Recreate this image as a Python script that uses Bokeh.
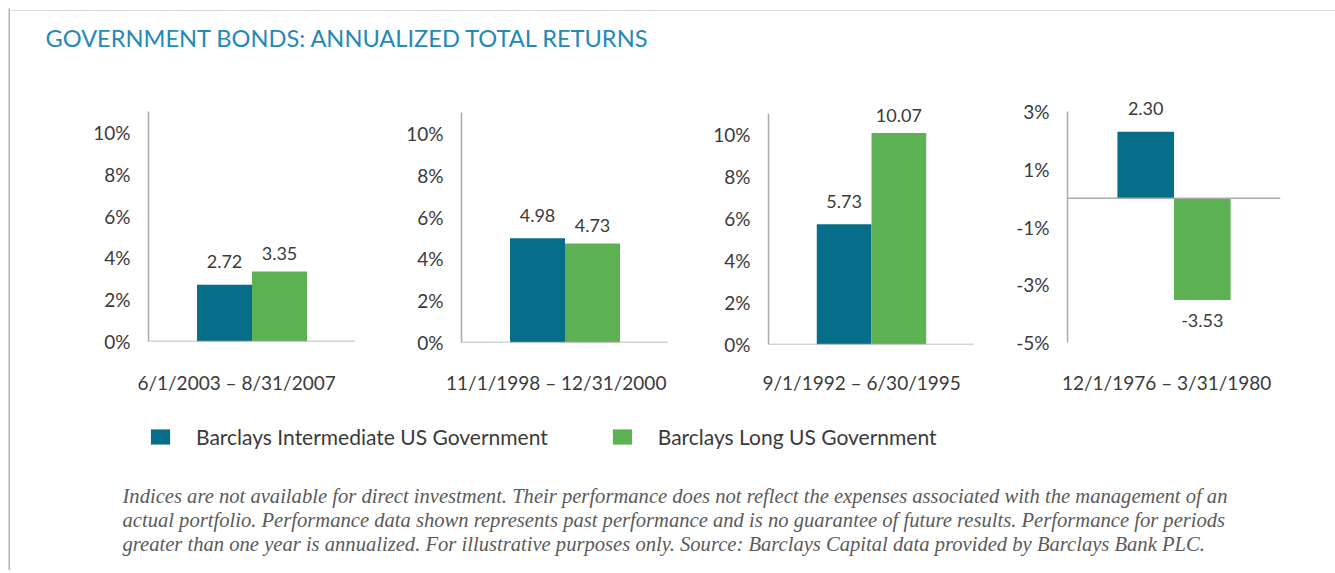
from bokeh.plotting import figure
from bokeh.models import (Range1d, FixedTicker, PrintfTickFormatter, Span, Label, LabelSet,
                          ColumnDataSource, Legend, LegendItem, BoxAnnotation)
from bokeh.layouts import column, row
from bokeh.embed import file_html
from bokeh.resources import INLINE
from bokeh.core.properties import value

# ---------------- data ----------------
title_text = "GOVERNMENT BONDS: ANNUALIZED TOTAL RETURNS"
periods = ["6/1/2003 – 8/31/2007", "11/1/1998 – 12/31/2000",
           "9/1/1992 – 6/30/1995", "12/1/1976 – 3/31/1980"]
series_names = ["Barclays Intermediate US Government", "Barclays Long US Government"]
intermediate = [2.72, 4.98, 5.73, 2.30]
long_gov = [3.35, 4.73, 10.07, -3.53]
ticks_positive = [0, 2, 4, 6, 8, 10]
ticks_mixed = [3, 1, -1, -3, -5]
footnote_lines = [
    "Indices are not available for direct investment. Their performance does not reflect the expenses associated with the management of an",
    "actual portfolio. Performance data shown represents past performance and is no guarantee of future results. Performance for periods",
    "greater than one year is annualized. For illustrative purposes only. Source: Barclays Capital data provided by Barclays Bank PLC.",
]

# ---------------- styles / geometry ----------------
BLUE = "#076e8a"
GREEN = "#5cb153"
TITLE_BLUE = "#2389b7"
AXIS_GRAY = "#ababab"
BORDER_GRAY = "#b3b3b3"
TEXT = "#3a3a3a"
FONT = "Lato"
LEFT_PAD = 10
TOP_PAD = 11
TOTAL_W = 1325
HEADER_H = 60
FOOTER_H = 170
PANEL_TOP = 71          # page y of the panel row
FRAME_TOP = 90          # page y of frame top
PANEL_BOTTOM = 400      # page y of panel bottom
DATE_Y = 382            # page y of period labels

# per panel: axis bounds, page-pixel of lower & upper bound, widths, label x
panel_cfg = [
    dict(left=138, fw=207, right=0, bounds=(0, 11), px=(341, 111), ticks=ticks_positive, lx=0.22),
    dict(left=106, fw=207, right=0, bounds=(0, 11), px=(342, 112), ticks=ticks_positive, lx=0.34),
    dict(left=100, fw=206, right=0, bounds=(0, 11), px=(344, 113), ticks=ticks_positive, lx=0.32),
    dict(left=93, fw=213, right=55, bounds=(-5, 3), px=(342, 111), ticks=ticks_mixed, lx=0.37),
]


def strip(p):
    p.outline_line_color = None
    p.grid.visible = False
    p.background_fill_color = None
    p.border_fill_color = "white"


def blank(w, h):
    b = figure(width=w, height=h, x_range=Range1d(0, w), y_range=Range1d(0, h),
               x_axis_location=None, y_axis_location=None, min_border=0,
               output_backend="svg", toolbar_location=None)
    strip(b)
    return b


# ---------------- page frame (top & left rules) ----------------
full_h = TOP_PAD + HEADER_H + (PANEL_BOTTOM - PANEL_TOP) + FOOTER_H
left_rule = blank(LEFT_PAD, full_h)
left_rule.add_layout(BoxAnnotation(left=LEFT_PAD - 2, right=LEFT_PAD, bottom=0, top=full_h - 8,
                                   fill_color=BORDER_GRAY, fill_alpha=1, line_color=None))
top_rule = blank(TOTAL_W, TOP_PAD)
top_rule.add_layout(BoxAnnotation(left=0, right=TOTAL_W, bottom=0, top=2,
                                  fill_color=BORDER_GRAY, fill_alpha=1, line_color=None))

# ---------------- header ----------------
header = blank(TOTAL_W, HEADER_H)
header.add_layout(Label(x=35, y=HEADER_H - 26, x_units="screen", y_units="screen", text=title_text,
                        text_font=FONT, text_font_size="23.6px", text_color=TITLE_BLUE,
                        text_baseline="middle"))

# ---------------- panels ----------------
panels = []
xs = list(range(len(series_names)))
for i, cfg in enumerate(panel_cfg):
    lo, hi = cfg["bounds"]
    p_lo, p_hi = cfg["px"]
    k = (p_lo - p_hi) / (hi - lo)               # pixels per percent
    y_top = hi + (p_hi - FRAME_TOP) / k
    p = figure(frame_width=cfg["fw"], frame_height=p_lo - FRAME_TOP,
               x_range=Range1d(-1.382, 2.382), y_range=Range1d(lo, y_top),
               min_border_left=cfg["left"], min_border_right=cfg["right"],
               min_border_top=FRAME_TOP - PANEL_TOP, min_border_bottom=PANEL_BOTTOM - p_lo,
               output_backend="svg", toolbar_location=None)
    strip(p)
    vals = [intermediate[i], long_gov[i]]
    offs = []
    for j, v in enumerate(vals):
        if v < 0:
            offs.append(-20)
        else:
            offs.append(23 if j == 0 else 18)
    src = ColumnDataSource(dict(x=xs, top=vals, color=[BLUE, GREEN],
                                label=[f"{v:.2f}" for v in vals], off=offs))
    p.vbar(x="x", top="top", width=1.0, fill_color="color", line_color=None, source=src)
    p.add_layout(LabelSet(x="x", y="top", text="label", y_offset="off", source=src,
                          text_align="center", text_baseline="middle",
                          text_font=value(FONT), text_font_size="18px", text_color=TEXT))
    p.add_layout(Span(location=0, dimension="width", line_color=AXIS_GRAY, line_width=1.5))
    ax = p.yaxis[0]
    ax.bounds = (lo, hi)
    ax.ticker = FixedTicker(ticks=cfg["ticks"])
    ax.formatter = PrintfTickFormatter(format="%d%%")
    ax.major_tick_out = 0
    ax.major_tick_in = 0
    ax.minor_tick_out = 0
    ax.minor_tick_in = 0
    ax.axis_line_color = AXIS_GRAY
    ax.axis_line_width = 1.5
    ax.major_label_standoff = 18
    ax.major_label_text_font = FONT
    ax.major_label_text_font_size = "19px"
    ax.major_label_text_color = TEXT
    xa = p.xaxis[0]
    xa.ticker = FixedTicker(ticks=[cfg["lx"]])
    xa.major_label_overrides = {cfg["lx"]: periods[i]}
    xa.axis_line_color = None
    xa.major_tick_out = 0
    xa.major_tick_in = 0
    xa.minor_tick_out = 0
    xa.minor_tick_in = 0
    xa.major_label_standoff = DATE_Y - p_lo - 12
    xa.major_label_text_font = FONT
    xa.major_label_text_font_size = "19px"
    xa.major_label_text_color = TEXT
    panels.append(p)

# ---------------- footer (legend + footnote) ----------------
footer = blank(TOTAL_W, FOOTER_H)
# legend proxies (kept outside the visible range)
r1 = footer.vbar(x=[-100], top=[1], width=1, fill_color=BLUE, line_color=None)
r2 = footer.vbar(x=[-100], top=[1], width=1, fill_color=GREEN, line_color=None)
legend = Legend(items=[LegendItem(label=series_names[0], renderers=[r1]),
                       LegendItem(label=series_names[1], renderers=[r2])],
                location=(138, FOOTER_H - 37 - 12), orientation="horizontal",
                glyph_width=24, glyph_height=19, label_standoff=24, spacing=62,
                padding=0, margin=0, border_line_color=None, background_fill_alpha=0,
                label_text_font=FONT, label_text_font_size="21px", label_text_color=TEXT)
footer.add_layout(legend)
for kk, line in enumerate(footnote_lines):
    footer.add_layout(Label(x=112, y=FOOTER_H - 95 - 24 * kk, x_units="screen", y_units="screen",
                            text=line, text_font="Liberation Serif", text_font_style="italic",
                            text_font_size="20.6px", text_color="#5a5a5a",
                            text_baseline="middle"))

layout = row(left_rule, column(top_rule, header, row(*panels), footer))

open("out.html", "w").write(file_html(layout, INLINE))
